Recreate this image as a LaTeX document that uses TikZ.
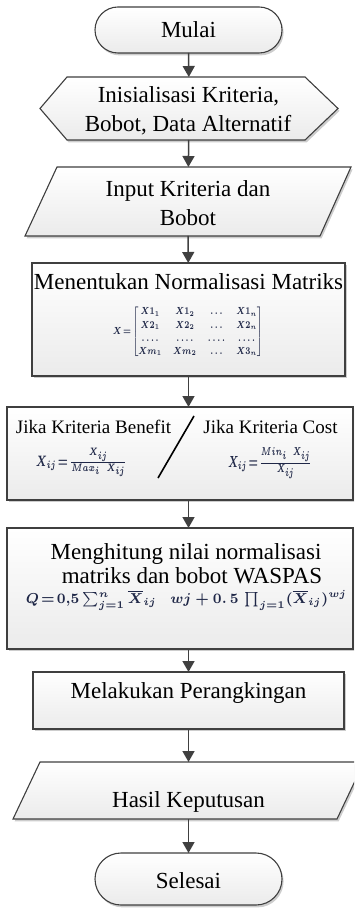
\documentclass[tikz,border=0pt]{standalone}
\usepackage{fontspec}
\setmainfont{Liberation Serif}
\usepackage{amsmath,bm,graphicx}
\usetikzlibrary{shapes,shapes.geometric,shapes.misc,arrows.meta,positioning,calc,shadows}
\definecolor{fcLine}{HTML}{3F3F3F}
\definecolor{fcArrow}{HTML}{404040}
\definecolor{fcShade}{HTML}{EBEBEB}
\definecolor{fcShadow}{HTML}{CDCDCD}
\definecolor{fcMath}{HTML}{1F2747}
\tikzset{
  blk/.style={draw=fcLine, line width=0.55pt, top color=white, bottom color=fcShade, inner sep=0pt, outer sep=0pt,
    drop shadow={shadow xshift=0.8pt, shadow yshift=-1.2pt, fill=fcShadow, opacity=1}},
  term/.style={blk, rounded rectangle},
  hold/.style={rectangle, inner sep=0pt, outer sep=0pt},
  proc/.style={blk, rectangle},
  txt/.style={font=\fontsize{11.5}{14}\selectfont, inner sep=0pt, anchor=base},
  txtS/.style={txt, font=\fontsize{9.5}{11}\selectfont},
  eq/.style={inner sep=0pt, text=fcMath, font=\fontsize{7}{9}\selectfont\boldmath},
  arr/.style={-{Triangle[length=5.5pt, width=6pt]}, line width=0.75pt, draw=fcArrow},
}

\begin{document}
\begin{tikzpicture}[x=0.5pt, y=-0.5pt]
  \useasboundingbox (0,0) rectangle (354,908);
  \clip (0,0) rectangle (354,908);

  % shapes
  \node[term, minimum width=93.5pt, minimum height=23pt] (start) at (188.5,30) {};
  \node[hold, minimum width=149pt, minimum height=31.5pt] (ini) at (189,108.5) {};
  \path[blk] (ini.west) -- ($(ini.north west)+(27,0)$) -- ($(ini.north east)+(-33,0)$) -- (ini.east)
    -- ($(ini.south east)+(-33,0)$) -- ($(ini.south west)+(27,0)$) -- cycle;
  \node[hold, minimum width=163pt, minimum height=34.5pt] (inp) at (188,201.5) {};
  \path[blk] ($(inp.north west)+(32,0)$) -- (inp.north east) -- ($(inp.south east)+(-31,0)$) -- (inp.south west) -- cycle;
  \node[proc, minimum width=156.5pt, minimum height=56.5pt] (norm) at (188.5,319.5) {};
  \node[proc, minimum width=173pt, minimum height=46.5pt] (kri) at (180,453.5) {};
  \node[proc, minimum width=173pt, minimum height=60.5pt] (hit) at (180,588.5) {};
  \node[proc, minimum width=155.5pt, minimum height=28.5pt] (rank) at (188.5,700.5) {};
  \node[hold, minimum width=175.5pt, minimum height=28.5pt] (out) at (188.5,790.5) {};
  \path[blk] ($(out.north west)+(27,0)$) -- (out.north east) -- ($(out.south east)+(-27,0)$) -- (out.south west) -- cycle;
  \node[term, minimum width=93.5pt, minimum height=26pt] (stop) at (188.5,879) {};

  % texts
  \node[txt] (startTxt) at (188.5,38) {Mulai};
  \node[txt] (iniTxtA) at (188.5,103) {Inisialisasi Kriteria,};
  \node[txt] (iniTxtB) at (188,132) {Bobot, Data Alternatif};
  \node[txt] (inpTxtA) at (188,197) {Input Kriteria dan};
  \node[txt] (inpTxtB) at (188,226) {Bobot};
  \node[txt] (normTxt) at (188.5,290) {Menentukan Normalisasi Matriks};
  \node[eq] (normEq) at (188,332)
    {\resizebox*{75pt}{26.5pt}{$X\!=\!\begin{bmatrix} X1_1 & X1_2 & \ldots & X1_n\\ X2_1 & X2_2 & \ldots & X2_n\\ \ldots. & \ldots. & \ldots. & \ldots.\\ Xm_1 & Xm_2 & \ldots & X3_n \end{bmatrix}$}};
  \node[txtS] (benTxt) at (93.5,433) {Jika Kriteria Benefit};
  \node[txtS] (costTxt) at (270.5,433) {Jika Kriteria Cost};
  \node[eq] (benEq) at (81.5,462.5) {\resizebox*{45.5pt}{14.5pt}{$X_{ij}\!=\!\frac{X_{ij}}{Max_i\;\; X_{ij}}$}};
  \node[eq] (costEq) at (270,463.5) {\resizebox*{42pt}{15.5pt}{$X_{ij}\!=\!\frac{Min_i\;\; X_{ij}}{X_{ij}}$}};
  \draw[line width=0.8pt] (194,416) -- (158,478);
  \node[txt] (hitTxtA) at (186,559) {Menghitung nilai normalisasi};
  \node[txt] (hitTxtB) at (192,583) {matriks dan bobot WASPAS};
  \node[eq] (hitEq) at (186.5,600)
    {\resizebox*{160.5pt}{10pt}{$Q\!=\!0{,}5\sum_{j=1}^{n}\overline{X}_{ij}\quad wj + 0.\,5\ \prod_{j=1}(\overline{X}_{ij})^{wj}$}};
  \node[txt] (rankTxt) at (188.5,698) {Melakukan Perangkingan};
  \node[txt] (outTxt) at (188.5,807) {Hasil Keputusan};
  \node[txt] (stopTxt) at (188.5,888) {Selesai};

  % arrows
  \draw[arr] (start) -- (ini);
  \draw[arr] (ini) -- (inp);
  \draw[arr] (inp) -- (norm);
  \draw[arr] (norm.south) -- (norm.south |- kri.north);
  \draw[arr] (norm.south |- kri.south) -- (norm.south |- hit.north);
  \draw[arr] (rank.north |- hit.south) -- (rank.north);
  \draw[arr] (rank) -- (out);
  \draw[arr] (out) -- (stop);
\end{tikzpicture}
\end{document}
